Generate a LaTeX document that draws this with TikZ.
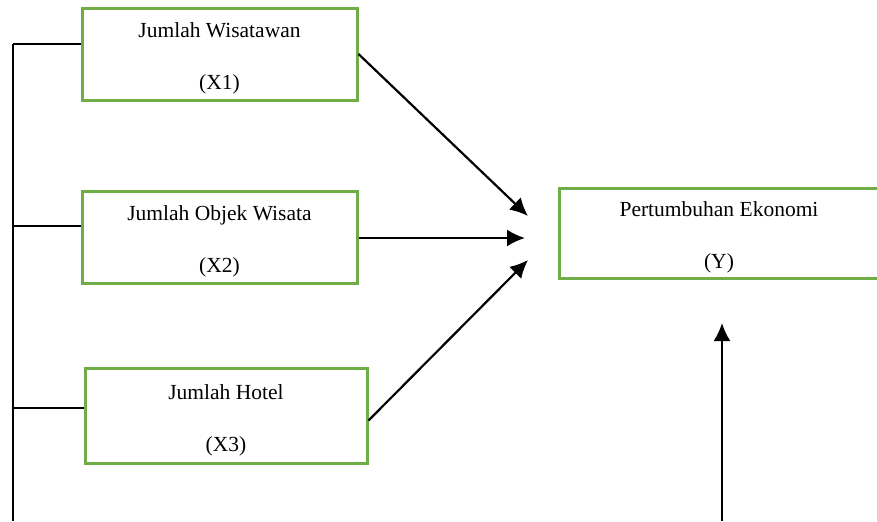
\documentclass[tikz,border=0pt]{standalone}
\usepackage{fontspec}
\setmainfont{Liberation Serif}
\usetikzlibrary{arrows.meta}
\definecolor{boxgreen}{RGB}{112,173,71}
\tikzset{
  varbox/.style={draw=boxgreen, line width=1.5pt, minimum width=137.5pt, minimum height=46pt,
    inner sep=0pt, align=center, text height=38pt,
    font={\fontsize{10.75}{26}\selectfont}},
  link/.style={line width=1.1pt},
  effect/.style={->,>={Latex[length=9pt,width=8.5pt]}, line width=1.1pt}
}
\begin{document}
\begin{tikzpicture}[x=0.5pt,y=-0.5pt]
\useasboundingbox (0,0) rectangle (877,521);
\clip (0,0) rectangle (877,521);
\node[varbox] (X1) at (219.5,54) {Jumlah Wisatawan\\(X1)};
\node[varbox] (X2) at (219.5,237) {Jumlah Objek Wisata\\(X2)};
\node[varbox, minimum width=141pt, minimum height=47.5pt] (X3) at (226,415.5) {Jumlah Hotel\\(X3)};
\node[varbox, minimum width=160pt, minimum height=45pt] (Y) at (719,233) {Pertumbuhan Ekonomi\\(Y)};

% left bus
\coordinate (bus1) at (13,44);
\coordinate (bus2) at (13,226);
\coordinate (bus3) at (13,408);
\coordinate (busbot) at (13,521);
\draw[link] (bus1) -- (busbot);
\draw[link] (bus1) -- (bus1 -| X1.west);
\draw[link] (bus2) -- (bus2 -| X2.west);
\draw[link] (bus3) -- (bus3 -| X3.west);

% arrows to Y
\coordinate (tip1) at (528,216);
\coordinate (tip2) at (525,238);
\coordinate (tip3) at (528,260);
\draw[effect] (X1.east) to (tip1);
\draw[effect] (X2.east |- tip2) to (tip2);
\draw[effect] ([yshift=-2.5pt]X3.east) to (tip3);

\coordinate (upbot) at (722,521);
\coordinate (uptip) at (722,323);
\draw[effect] (upbot) to (uptip);
\end{tikzpicture}
\end{document}
